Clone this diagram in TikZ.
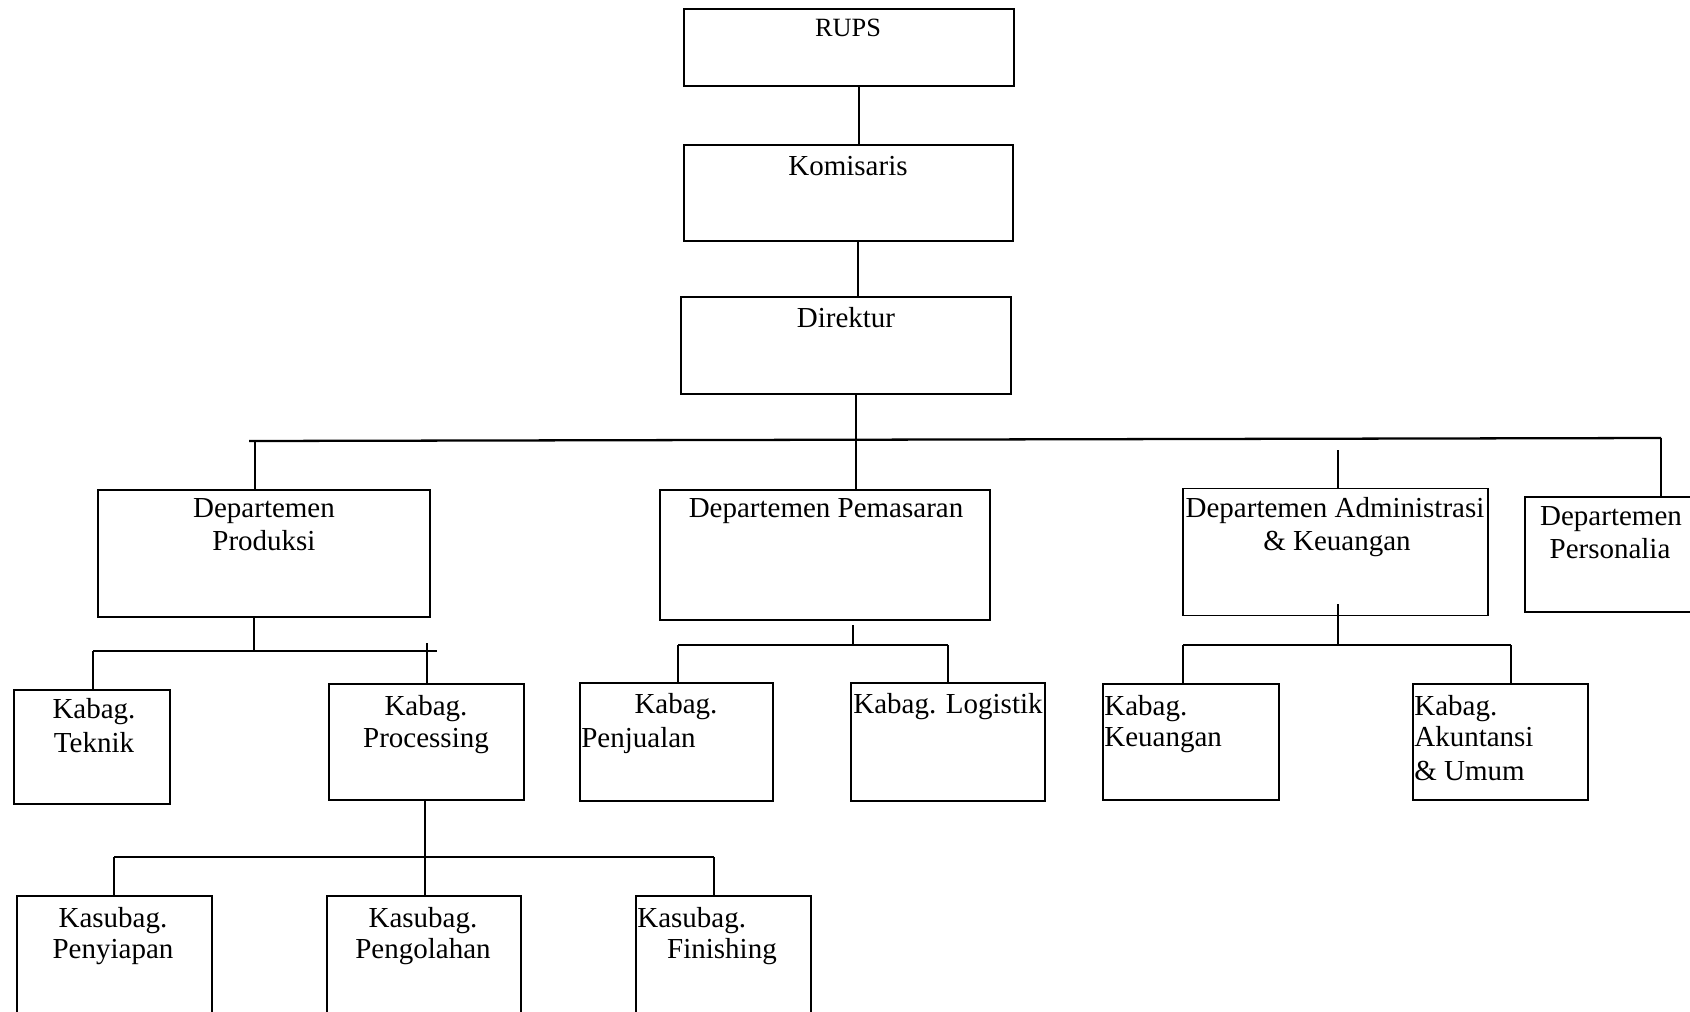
\documentclass[tikz,border=0pt]{standalone}
\usepackage{fontspec}
\setmainfont{Liberation Serif}

\begin{document}
\begin{tikzpicture}[x=0.02cm,y=-0.02cm,
                    box/.style={draw,line width=1.1pt,inner sep=0pt},
                    con/.style={line width=0.7pt},
                    bus/.style={line width=1.3pt},
                    txt/.style={font=\fontsize{16.5}{18.8}\selectfont,inner sep=0pt,anchor=base}]

  \useasboundingbox (0,0) rectangle (1690,1011);
  \clip (0,0) rectangle (1690,1011);

  % boxes
  \node[box,minimum width=6.6cm, minimum height=1.54cm] (RU) at (849,47.5)   {};
  \node[box,minimum width=6.58cm,minimum height=1.92cm] (KO) at (848.5,193)  {};
  \node[box,minimum width=6.6cm, minimum height=1.94cm] (DI) at (846,345.5)  {};
  \node[box,minimum width=6.64cm,minimum height=2.54cm] (DP) at (264,553.5)  {};
  \node[box,minimum width=6.6cm, minimum height=2.6cm]  (DM) at (825,555)    {};
  \node[box,minimum width=6.1cm, minimum height=2.54cm] (DA) at (1335.5,552) {};
  \node[box,minimum width=3.5cm, minimum height=2.3cm]  (DS) at (1612.5,554.5) {};
  \node[box,minimum width=3.12cm,minimum height=2.28cm] (KT) at (92,747)     {};
  \node[box,minimum width=3.9cm, minimum height=2.32cm] (KP) at (426.5,742)  {};
  \node[box,minimum width=3.86cm,minimum height=2.36cm] (KJ) at (676.5,742)  {};
  \node[box,minimum width=3.88cm,minimum height=2.36cm] (KL) at (948,742)    {};
  \node[box,minimum width=3.52cm,minimum height=2.32cm] (KK) at (1191,742)   {};
  \node[box,minimum width=3.5cm, minimum height=2.32cm] (KA) at (1500.5,742) {};
  \node[box,minimum width=3.9cm, minimum height=2.68cm] (SY) at (114.5,963)  {};
  \node[box,minimum width=3.88cm,minimum height=2.68cm] (SO) at (424,963)    {};
  \node[box,minimum width=3.5cm, minimum height=2.68cm] (SF) at (723.5,963)  {};

  % texts
  \node[txt,font=\fontsize{15}{18}\selectfont] (RUt) at (848,36) {RUPS};
  \node[txt] (KOt)  at (848,175) {Komisaris};
  \node[txt] (DIt)  at (846,327) {Direktur};
  \node[txt] (DPt1) at (264,517) {Departemen};
  \node[txt] (DPt2) at (264,550) {Produksi};
  \node[txt] (DMt)  at (826,517) {Departemen Pemasaran};
  \node[txt] (DAt1) at (1335,517) {Departemen Administrasi};
  \node[txt] (DAt2) at (1337,550) {\& Keuangan};
  \node[txt] (DSt1) at (1611,525) {Departemen};
  \node[txt] (DSt2) at (1610,558) {Personalia};
  \node[txt] (KTt1) at (94,718)  {Kabag.};
  \node[txt] (KTt2) at (94,752)  {Teknik};
  \node[txt] (KPt1) at (426,715) {Kabag.};
  \node[txt] (KPt2) at (426,747) {Processing};
  \node[txt] (KJt1) at (676,713) {Kabag.};
  \node[txt,anchor=base west] (KJt2) at (581,747) {Penjualan};
  \node[txt] (KLt)  at (948,713) {Kabag. Logistik};
  \node[txt,anchor=base west] (KKt1) at (1104,715) {Kabag.};
  \node[txt,anchor=base west] (KKt2) at (1104,746) {Keuangan};
  \node[txt,anchor=base west] (KAt1) at (1414,715) {Kabag.};
  \node[txt,anchor=base west] (KAt2) at (1414,746) {Akuntansi};
  \node[txt,anchor=base west] (KAt3) at (1414,780) {\& Umum};
  \node[txt] (SYt1) at (113,927) {Kasubag.};
  \node[txt] (SYt2) at (113,958) {Penyiapan};
  \node[txt] (SOt1) at (423,927) {Kasubag.};
  \node[txt] (SOt2) at (423,958) {Pengolahan};
  \node[txt,anchor=base west] (SFt1) at (637,927) {Kasubag.};
  \node[txt] (SFt2) at (722,958) {Finishing};

  % top chain
  \coordinate (c1) at (859,116);
  \coordinate (c2) at (858,269);
  \draw[con] (RU.south -| c1) -- (KO.north -| c1);
  \draw[con] (KO.south -| c2) -- (DI.north -| c2);

  % main bus
  \coordinate (bl) at (249,441);
  \coordinate (br) at (1661,438);
  \coordinate (b0) at (856,440);
  \coordinate (b1) at (255,441);
  \coordinate (b3) at (1338,450);
  \draw[bus] (bl) -- (br);
  \draw[con] (DI.south -| b0) -- (DM.north -| b0);
  \draw[con] (b1) -- (DP.north -| b1);
  \draw[con] (b3) -- (DA.north -| b3);
  \draw[con] (br) -- (DS.north -| br);

  % produksi
  \coordinate (p0) at (254,651);
  \coordinate (pl) at (93,651);
  \coordinate (pr) at (437,651);
  \coordinate (p2) at (427,643);
  \draw[con] (DP.south -| p0) -- (p0);
  \draw[bus] (pl) -- (pr);
  \draw[con] (pl) -- (KT.north -| pl);
  \draw[con] (p2) -- (KP.north -| p2);

  % pemasaran
  \coordinate (m0) at (853,625);
  \coordinate (ml) at (678,645);
  \coordinate (mr) at (948,645);
  \draw[con] (m0) -- (m0 |- ml);
  \draw[bus] (ml) -- (mr);
  \draw[con] (ml) -- (KJ.north -| ml);
  \draw[con] (mr) -- (KL.north -| mr);

  % administrasi
  \coordinate (a0) at (1338,604);
  \coordinate (al) at (1183,645);
  \coordinate (ar) at (1511,645);
  \draw[con] (a0) -- (a0 |- al);
  \draw[bus] (al) -- (ar);
  \draw[con] (al) -- (KK.north -| al);
  \draw[con] (ar) -- (KA.north -| ar);

  % processing
  \coordinate (s0) at (425,857);
  \coordinate (sl) at (114,857);
  \coordinate (sr) at (714,857);
  \draw[con] (KP.south -| s0) -- (SO.north -| s0);
  \draw[bus] (sl) -- (sr);
  \draw[con] (sl) -- (SY.north -| sl);
  \draw[con] (sr) -- (SF.north -| sr);
\end{tikzpicture}
\end{document}
